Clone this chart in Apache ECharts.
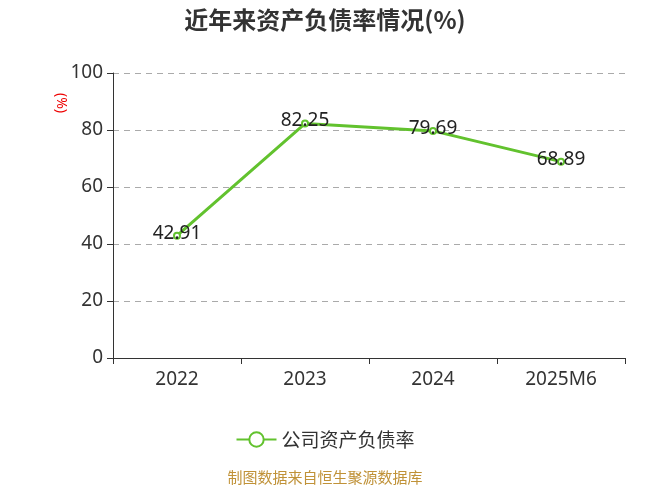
<!DOCTYPE html>
<html><head><meta charset="utf-8">
<script src="https://cdn.jsdelivr.net/npm/echarts@6/dist/echarts.min.js"></script>
<style>html,body{margin:0;padding:0;background:#fff}#c{width:650px;height:488px}</style>
</head><body><div id="c"></div>
<script>
const categories = ['2022', '2023', '2024', '2025M6'];
const seriesName = '公司资产负债率';
const values = [42.91, 82.25, 79.69, 68.89];
const yTicks = { min: 0, max: 100, interval: 20 };

const chart = echarts.init(document.getElementById('c'));
const green = '#62c22e';
chart.setOption({
  animation: false,
  backgroundColor: '#fff',
  title: {
    text: '近年来资产负债率情况(%)',
    left: 'center', top: 3,
    textStyle: { fontSize: 24, fontWeight: 'bold', color: '#333', fontFamily: 'Noto Sans CJK SC' }
  },
  grid: { left: 113, right: 25, top: 73, bottom: 130, containLabel: false },
  xAxis: {
    type: 'category', data: categories, boundaryGap: true,
    axisLine: { lineStyle: { color: '#333', width: 1 } },
    axisTick: { show: true, length: 6, lineStyle: { color: '#333' } },
    axisLabel: { fontSize: 19, color: '#333', margin: 12, fontFamily: 'Noto Sans' }
  },
  yAxis: {
    type: 'value', min: yTicks.min, max: yTicks.max, interval: yTicks.interval,
    axisLine: { show: true, lineStyle: { color: '#333', width: 1 } },
    axisTick: { show: true, length: 6, lineStyle: { color: '#333' } },
    axisLabel: { fontSize: 19, color: '#333', margin: 10, fontFamily: 'Noto Sans' },
    splitLine: { lineStyle: { color: '#aaa', type: [6, 5], width: 1 } }
  },
  legend: {
    data: [seriesName], left: 'center', top: 425,
    itemWidth: 40, itemHeight: 18, itemGap: 10,
    textStyle: { fontSize: 19, color: '#333', fontFamily: 'Noto Sans CJK SC' }
  },
  graphic: [
    { type: 'text', left: 54, top: 93, rotation: -Math.PI / 2,
      style: { text: '(%)', fill: '#e00', fontSize: 14, fontFamily: 'Noto Sans' } },
    { type: 'text', left: 'center', top: 470,
      style: { text: '制图数据来自恒生聚源数据库', fill: '#c09238', fontSize: 15, fontFamily: 'Noto Sans CJK SC' } }
  ],
  series: [{
    name: seriesName, type: 'line', data: values,
    symbol: 'emptyCircle', symbolSize: 6,
    lineStyle: { color: green, width: 3 },
    itemStyle: { color: green, borderWidth: 1.5 },
    label: { show: true, position: 'top', distance: -11, fontSize: 19, color: '#222', fontFamily: 'Noto Sans' }
  }]
});
</script></body></html>
